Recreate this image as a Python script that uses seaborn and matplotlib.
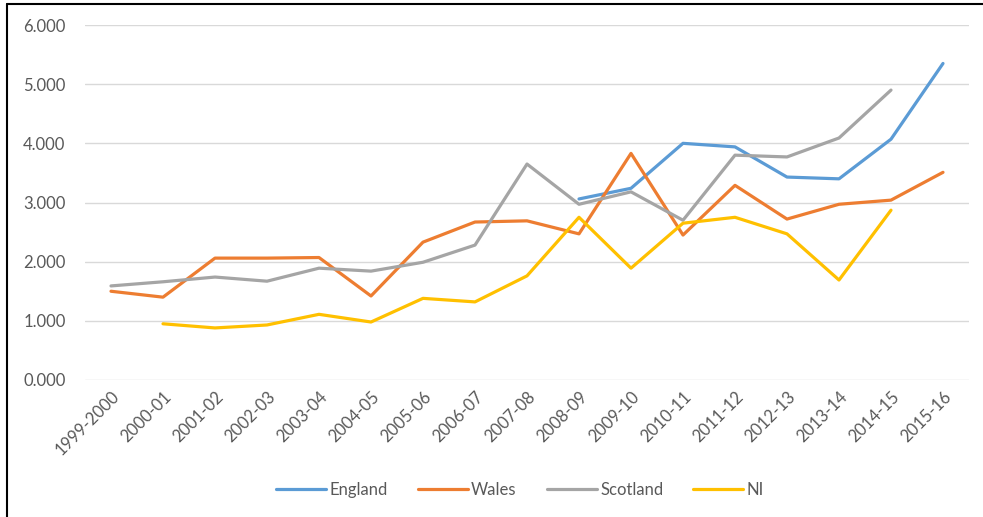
import numpy as np
import pandas as pd
import matplotlib
matplotlib.use('Agg')
import matplotlib.pyplot as plt
import seaborn as sns
from matplotlib.lines import Line2D

years = ['1999-2000', '2000-01', '2001-02', '2002-03', '2003-04', '2004-05',
         '2005-06', '2006-07', '2007-08', '2008-09', '2009-10', '2010-11',
         '2011-12', '2012-13', '2013-14', '2014-15', '2015-16']

nan = np.nan
england = [nan, nan, nan, nan, nan, nan, nan, nan, nan,
           3.06, 3.24, 4.00, 3.94, 3.43, 3.40, 4.07, 5.35]
wales = [1.50, 1.40, 2.06, 2.06, 2.07, 1.42, 2.33, 2.67, 2.69,
         2.47, 3.83, 2.45, 3.29, 2.72, 2.97, 3.04, 3.51]
scotland = [1.59, 1.66, 1.74, 1.67, 1.89, 1.84, 1.99, 2.28, 3.65,
            2.97, 3.18, 2.70, 3.80, 3.77, 4.09, 4.90, nan]
ni = [nan, 0.95, 0.88, 0.93, 1.11, 0.98, 1.38, 1.32, 1.76,
      2.75, 1.89, 2.65, 2.75, 2.47, 1.69, 2.87, nan]

series = {'England': england, 'Wales': wales, 'Scotland': scotland, 'NI': ni}
colors = {'England': '#5B9BD5', 'Wales': '#ED7D31', 'Scotland': '#A5A5A5', 'NI': '#FFC000'}

df = pd.DataFrame(series, index=years).reset_index(names='Year')
df['x'] = np.arange(len(years))
long_df = df.melt(id_vars=['Year', 'x'], var_name='Country', value_name='Value').dropna()

sns.set_style('white')
plt.rcParams['font.family'] = ['Lato', 'DejaVu Sans']

fig = plt.figure(figsize=(9.83, 5.17), dpi=100)
ax = fig.add_axes([85 / 983, 1 - 380 / 517, (969 - 85) / 983, (380 - 25) / 517])

sns.lineplot(data=long_df, x='x', y='Value', hue='Country', palette=colors,
             hue_order=list(series.keys()), linewidth=2.3, ax=ax, legend=False)

ax.set_xlim(-0.5, len(years) - 0.5)
ax.set_ylim(0, 6)
ax.set_yticks(np.arange(0, 7, 1))
ax.set_yticklabels([f'{v:.3f}' for v in range(7)])
ax.set_xticks(np.arange(len(years)))
ax.set_xticklabels(years, rotation=45, ha='right', rotation_mode='anchor')
ax.tick_params(axis='both', length=0, labelsize=12, labelcolor='#595959')
ax.tick_params(axis='y', pad=14)
ax.tick_params(axis='x', pad=6)
ax.grid(axis='y', color='#D9D9D9', linewidth=1)
ax.set_axisbelow(True)
for s in ax.spines.values():
    s.set_visible(False)
ax.set_xlabel('')
ax.set_ylabel('')

handles = [Line2D([], [], color=colors[k], linewidth=2.3) for k in series]
fig.legend(handles, list(series.keys()), loc='center', bbox_to_anchor=(520 / 983, 1 - 490 / 517),
           ncol=4, frameon=False, fontsize=12, labelcolor='#595959',
           handlelength=3.0, handletextpad=0.2, columnspacing=1.8)

# outer frame (left and top edges)
fig.add_artist(Line2D([7 / 983, 7 / 983], [0, 1 - 4 / 517], transform=fig.transFigure,
                      color='black', linewidth=1.5))
fig.add_artist(Line2D([7 / 983, 1], [1 - 4 / 517, 1 - 4 / 517], transform=fig.transFigure,
                      color='black', linewidth=1.5))

fig.savefig('out.png', dpi=100)
